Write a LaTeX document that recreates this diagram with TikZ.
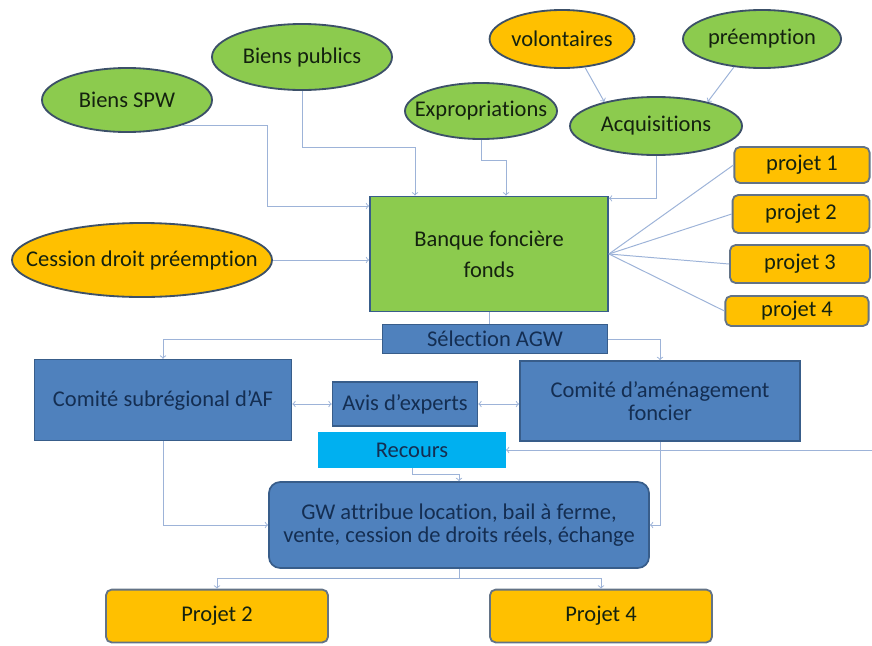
\documentclass[tikz,border=0pt]{standalone}
\usepackage{fontspec}
\setmainfont{Carlito}[Ligatures=NoCommon]
\usepackage{tikz}
\usetikzlibrary{calc, shapes, arrows}

\definecolor{leaf}{HTML}{8CCB4E}
\definecolor{amber}{HTML}{FFC000}
\definecolor{steel}{HTML}{4F81BD}
\definecolor{steeldark}{HTML}{385D8A}
\definecolor{rim}{HTML}{3C5068}
\definecolor{sky}{HTML}{00B0F0}
\definecolor{wire}{HTML}{9DB3D8}
\definecolor{ink}{HTML}{14220F}
\definecolor{navy}{HTML}{142E52}

\begin{document}
\begin{tikzpicture}[x=0.025cm,y=-0.025cm]
\tikzstyle{txt}=[font=\fontsize{16}{18}\selectfont]
\tikzstyle{oval}=[txt,ellipse,draw=rim,line width=1.3pt,inner sep=0pt,text=ink]
\tikzstyle{green}=[oval,fill=leaf]
\tikzstyle{orange}=[oval,fill=amber]
\tikzstyle{projet}=[txt,rectangle,rounded corners=4pt,draw=rim!80,line width=1.3pt,fill=amber,text=ink]
\tikzstyle{blue}=[txt,rectangle,draw=steeldark,line width=1.2pt,fill=steel,text=navy,align=center]
\tikzstyle{conn}=[draw=wire,line width=0.7pt,>=to]
\useasboundingbox (0,0) rectangle (872,645);

% sources
\node[green,minimum width=4.25cm,minimum height=1.6cm] (spw) at (127,100) {Biens SPW};
\node[green,minimum width=4.5cm,minimum height=1.65cm] (publics) at (302,57) {Biens publics};
\node[green,minimum width=3.8cm,minimum height=1.4cm,inner xsep=-0.5cm] (expro) at (481,111) {Expropriations};
\node[orange,minimum width=3.62cm,minimum height=1.45cm,inner xsep=-0.1cm] (volont) at (562,39) {volontaires};
\node[green,minimum width=3.95cm,minimum height=1.45cm,inner xsep=-0.1cm] (preempt) at (762,39) {préemption};
\node[green,minimum width=4.3cm,minimum height=1.45cm,inner xsep=-0.1cm] (acqui) at (656,126) {Acquisitions};
\node[orange,minimum width=6.5cm,minimum height=1.85cm,inner xsep=-1cm] (cession) at (142,260) {Cession droit préemption};

% banque et projets
\node[txt,draw=steeldark,line width=1.2pt,fill=leaf,text=ink,align=center,minimum width=5.95cm,minimum height=2.88cm] (banque) at (489,254) {Banque foncière\\[4pt]fonds};
\node[projet,minimum width=3.38cm,minimum height=0.9cm] (p1) at (802,165) {projet 1};
\node[projet,minimum width=3.42cm,minimum height=0.95cm] (p2) at (801,214) {projet 2};
\node[projet,minimum width=3.5cm,minimum height=0.95cm] (p3) at (800,264) {projet 3};
\node[projet,minimum width=3.58cm,minimum height=0.75cm,inner sep=1pt] (p4) at (797,311) {projet 4};

% instances
\node[blue,minimum width=5.62cm,minimum height=0.72cm,inner sep=1pt] (sel) at (495,339) {Sélection AGW};
\node[blue,minimum width=6.42cm,minimum height=2.02cm] (csr) at (163,400) {Comité subrégional d’AF};
\node[blue,minimum width=3.62cm,minimum height=1.1cm] (avis) at (405,404) {Avis d’experts};
\node[blue,font=\fontsize{16}{16.5}\selectfont,minimum width=7cm,minimum height=2cm] (cam) at (660,401) {Comité d’aménagement\\foncier};
\node[txt,fill=sky,text=navy,minimum width=4.68cm,minimum height=0.9cm] (recours) at (412,450) {Recours};
\node[blue,font=\fontsize{16}{16.5}\selectfont,rounded corners=8pt,minimum width=9.5cm,minimum height=2.15cm] (gw) at (459,525) {GW attribue location, bail à ferme,\\vente, cession de droits réels, échange};
\node[projet,minimum width=5.55cm,minimum height=1.32cm] (proj2) at (217,616) {Projet 2};
\node[projet,minimum width=5.55cm,minimum height=1.32cm] (proj4) at (601,616) {Projet 4};

% coudes
\coordinate (b1) at (267,206);
\coordinate (b2) at (415,147);
\coordinate (b3) at (506,160);
\coordinate (b4) at (459,474);
\coordinate (b5) at (459,578);
\coordinate (edge) at (872,450);

\draw[conn,->] (spw.-25) -| (b1) -- (b1 -| banque.west);
\draw[conn,->] (publics.south) |- (b2) -- (b2 |- banque.north);
\draw[conn,->] (expro.south) |- (b3) -- (b3 |- banque.north);
\draw[conn,->] (acqui.south) |- ([yshift=-2pt]banque.north east);
\draw[conn,->] (volont.-51) -- (acqui.155);
\draw[conn,->] (preempt.-135) -- (acqui.25);
\draw[conn,->] (cession.east) -- (cession.east -| banque.west);
\draw[conn] (banque.east) -- (p1.west);
\draw[conn] (banque.east) -- (p2.west);
\draw[conn] (banque.east) -- (p3.west);
\draw[conn] (banque.east) -- (p4.west);
\draw[conn] (banque.south) -- (banque.south |- sel.north);
\draw[conn,->] (sel.west) -| (csr.north);
\draw[conn,->] (sel.east) -| (cam.north);
\draw[conn,<->] (csr.east |- avis.west) -- (avis.west);
\draw[conn,<->] (avis.east) -- (avis.east -| cam.west);
\draw[conn,->] (csr.south) |- (gw.west);
\draw[conn,->] (cam.south) |- (gw.east);
\draw[conn,->] (edge) -- (recours.east);
\draw[conn,->] (recours.south) |- (b4) -- (b4 |- gw.north);
\draw[conn] (gw.south) -- (b5);
\draw[conn,->] (b5) -| (proj2.north);
\draw[conn,->] (b5) -| (proj4.north);
\end{tikzpicture}
\end{document}
